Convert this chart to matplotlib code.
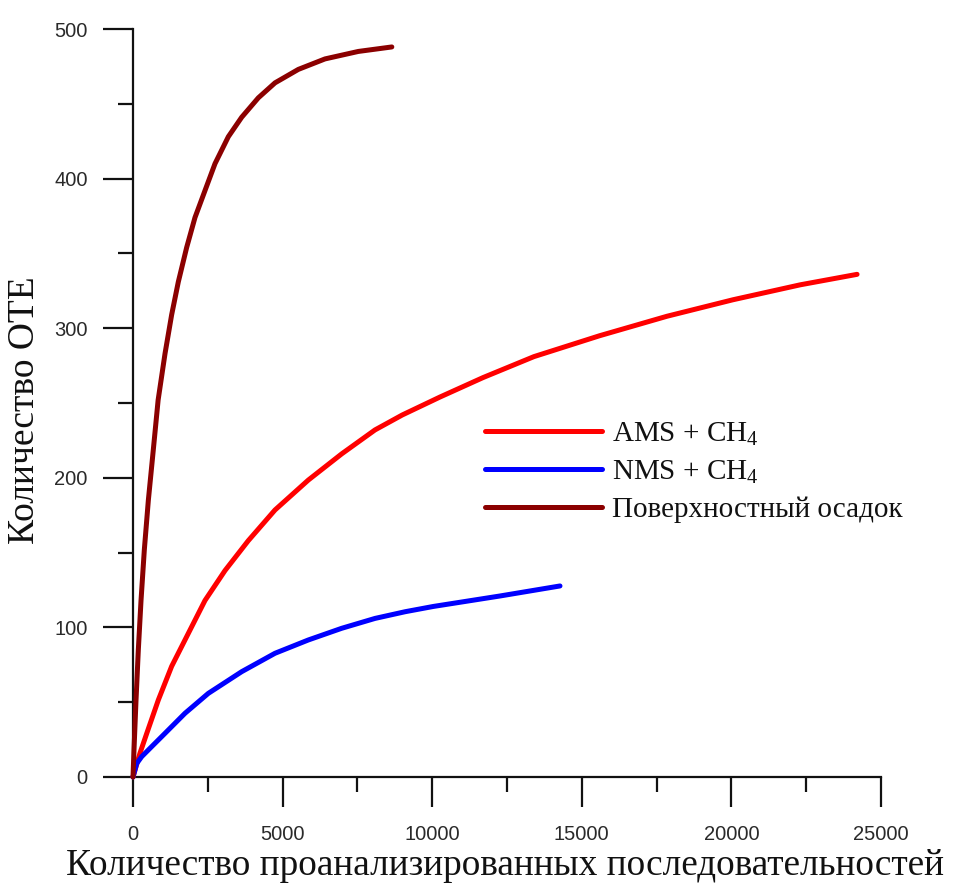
import matplotlib
matplotlib.use("Agg")
import matplotlib.pyplot as plt
from matplotlib.ticker import MultipleLocator

# Data
sediment_x = [0, 33, 100, 178, 268, 379, 513, 680, 840, 1070, 1292, 1515, 1794, 2072,
              2406, 2741, 3186, 3632, 4189, 4746, 5526, 6417, 7531, 8650]
sediment_y = [0, 18, 51, 85, 118, 152, 185, 219, 252, 283, 309, 331, 354, 374,
              392, 410, 428, 441, 454, 464, 473, 480, 485, 488]

ams_x = [0, 234, 457, 847, 1292, 1849, 2406, 3075, 3854, 4746, 5860, 6975, 8088, 9000,
         10261, 11700, 13400, 15600, 17850, 20050, 22300, 24200]
ams_y = [0, 16, 29, 51.5, 74, 96, 118, 138, 158, 178.5, 198.5, 216, 232, 242,
         254, 267, 281, 295, 308, 319, 329, 336]

nms_x = [0, 123, 290, 624, 1070, 1738, 2517, 3632, 4746, 5860, 6975, 8088, 9100,
         10037, 12266, 14271]
nms_y = [0, 9, 13.6, 20.3, 29.2, 42.6, 55.9, 70.4, 82.7, 91.6, 99.4, 106, 110.5,
         114, 121, 127.7]

labels = [r"AMS + CH$_\mathrm{4}$", r"NMS + CH$_\mathrm{4}$", "Поверхностный осадок"]
x_label = "Количество проанализированных последовательностей"
y_label = "Количество ОТЕ"

plt.rcParams["mathtext.fontset"] = "custom"
plt.rcParams["mathtext.rm"] = "Liberation Serif"

fig = plt.figure(figsize=(9.54, 8.85), dpi=100)
ax = fig.add_axes([133 / 954, 1 - 777 / 885, (881 - 133) / 954, (777 - 29) / 885])

lw = 3.6
kw = dict(lw=lw, solid_capstyle="round", solid_joinstyle="round", clip_on=False)
l1, = ax.plot(ams_x, ams_y, color="#ff0000", zorder=3, **kw)
l2, = ax.plot(nms_x, nms_y, color="#0000ff", zorder=3, **kw)
l3, = ax.plot(sediment_x, sediment_y, color="#8b0000", zorder=4, **kw)

ax.set_xlim(0, 25000)
ax.set_ylim(0, 500)
ax.spines["top"].set_visible(False)
ax.spines["right"].set_visible(False)
for s in ("left", "bottom"):
    ax.spines[s].set_linewidth(1.6)
    ax.spines[s].set_color("#111111")

ax.xaxis.set_major_locator(MultipleLocator(5000))
ax.xaxis.set_minor_locator(MultipleLocator(2500))
ax.yaxis.set_major_locator(MultipleLocator(100))
ax.yaxis.set_minor_locator(MultipleLocator(50))
ax.tick_params(which="major", direction="out", length=21.5, width=1.6, color="#111111")
ax.tick_params(which="minor", direction="out", length=11, width=1.6, color="#111111")
ax.tick_params(axis="x", which="major", pad=13)
ax.tick_params(axis="y", which="major", pad=11)
for lab in ax.get_xticklabels() + ax.get_yticklabels():
    lab.set_fontfamily("Liberation Sans")
    lab.set_fontsize(14.5)
    lab.set_color("#2a2a2a")

fig.text(505 / 954, 1 - 866 / 885, x_label, ha="center", va="center",
         fontfamily="Liberation Serif", fontsize=26.8, color="#111111")
fig.text(25 / 954, 1 - 410 / 885, y_label, ha="center", va="center", rotation=90,
         fontfamily="Liberation Serif", fontsize=27, color="#111111")

leg = fig.legend([l1, l2, l3], labels, loc="upper left",
                 bbox_to_anchor=(485 / 954, 1 - 420 / 885),
                 frameon=False, borderpad=0, borderaxespad=0,
                 handlelength=4.0, handletextpad=0.35, labelspacing=0.36,
                 prop={"family": "Liberation Serif", "size": 21})
for t in leg.get_texts():
    t.set_color("#111111")

fig.savefig("out.png", dpi=100)
